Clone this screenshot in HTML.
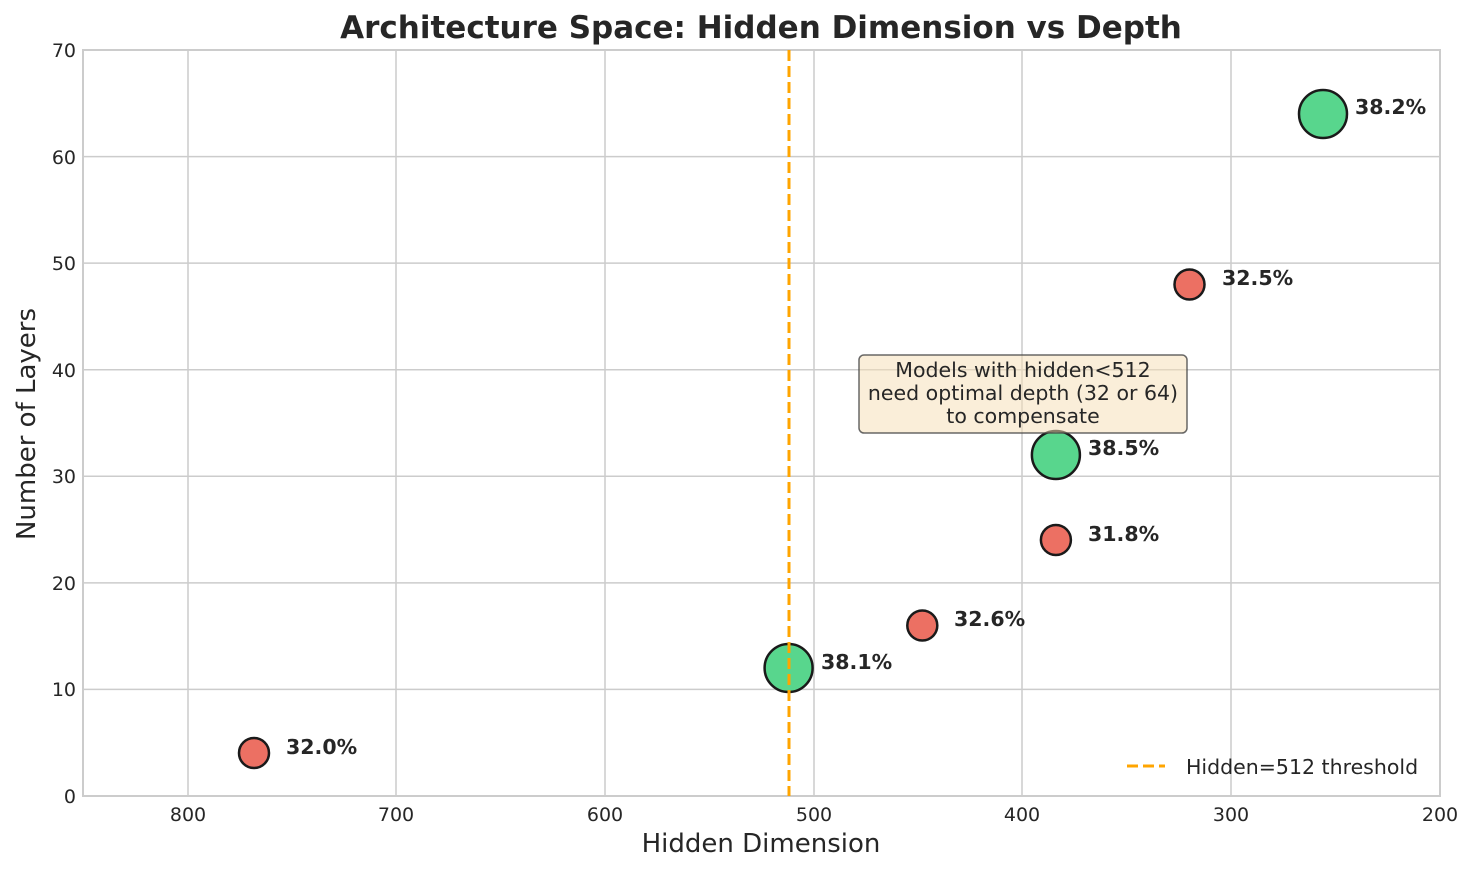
<!DOCTYPE html><html><head><style>body{margin:0;background:#fff}svg{display:block;font-family:"DejaVu Sans","Liberation Sans",sans-serif}</style></head><body>
<svg width="1475" height="873" viewBox="0 0 1475 873">
<g stroke="#cccccc" stroke-width="1.5">
<line x1="188" y1="50" x2="188" y2="796"/><line x1="396" y1="50" x2="396" y2="796"/><line x1="605" y1="50" x2="605" y2="796"/><line x1="814" y1="50" x2="814" y2="796"/><line x1="1022" y1="50" x2="1022" y2="796"/><line x1="1231" y1="50" x2="1231" y2="796"/>
<line x1="83" y1="689.4" x2="1440" y2="689.4"/><line x1="83" y1="582.9" x2="1440" y2="582.9"/><line x1="83" y1="476.3" x2="1440" y2="476.3"/><line x1="83" y1="369.7" x2="1440" y2="369.7"/><line x1="83" y1="263.1" x2="1440" y2="263.1"/><line x1="83" y1="156.6" x2="1440" y2="156.6"/>
</g>
<rect x="83" y="50" width="1357" height="746" fill="none" stroke="#cccccc" stroke-width="2"/>
<g font-size="19" fill="#262626" text-anchor="middle">
<text x="188" y="821">800</text><text x="396" y="821">700</text><text x="605" y="821">600</text><text x="814" y="821">500</text><text x="1022" y="821">400</text><text x="1231" y="821">300</text><text x="1440" y="821">200</text>
</g>
<g font-size="19" fill="#262626" text-anchor="end">
<text x="76" y="803">0</text><text x="76" y="696">10</text><text x="76" y="590">20</text><text x="76" y="483">30</text><text x="76" y="377">40</text><text x="76" y="270">50</text><text x="76" y="164">60</text><text x="76" y="57">70</text>
</g>
<text x="761" y="852" font-size="26" fill="#262626" text-anchor="middle">Hidden Dimension</text>
<text transform="translate(35,424) rotate(-90)" font-size="26" fill="#262626" text-anchor="middle">Number of Layers</text>
<text x="761" y="38" font-size="31" font-weight="bold" fill="#262626" text-anchor="middle">Architecture Space: Hidden Dimension vs Depth</text>
<g stroke="#1a1a1a" stroke-width="2.5">
<circle cx="254" cy="753" r="15" fill="#ec7063"/>
<circle cx="788.6" cy="668" r="24" fill="#58d68d"/>
<circle cx="922.3" cy="625.5" r="15" fill="#ec7063"/>
<circle cx="1055.9" cy="540" r="15" fill="#ec7063"/>
<circle cx="1055.9" cy="455" r="24" fill="#58d68d"/>
<circle cx="1189.5" cy="284.5" r="15" fill="#ec7063"/>
<circle cx="1323" cy="114" r="24" fill="#58d68d"/>
</g>
<line x1="789" y1="50" x2="789" y2="796" stroke="#ffa500" stroke-width="3" stroke-dasharray="11,5"/>
<g font-size="20.5" font-weight="bold" fill="#262626">
<text x="286" y="754">32.0%</text><text x="821" y="669">38.1%</text><text x="954" y="626">32.6%</text><text x="1088" y="541">31.8%</text><text x="1088" y="455">38.5%</text><text x="1222" y="285">32.5%</text><text x="1355" y="114">38.2%</text>
</g>
<rect x="859" y="355" width="328" height="78" rx="5" fill="#f5deb3" fill-opacity="0.5" stroke="#444" stroke-opacity="0.8" stroke-width="1.5"/>
<g font-size="20.5" fill="#262626" text-anchor="middle">
<text x="1023" y="377">Models with hidden&lt;512</text><text x="1023" y="400">need optimal depth (32 or 64)</text><text x="1023" y="423">to compensate</text>
</g>
<line x1="1127" y1="766" x2="1165" y2="766" stroke="#ffa500" stroke-width="3" stroke-dasharray="11,5"/>
<text x="1186" y="774" font-size="20.5" fill="#262626">Hidden=512 threshold</text>
</svg></body></html>
